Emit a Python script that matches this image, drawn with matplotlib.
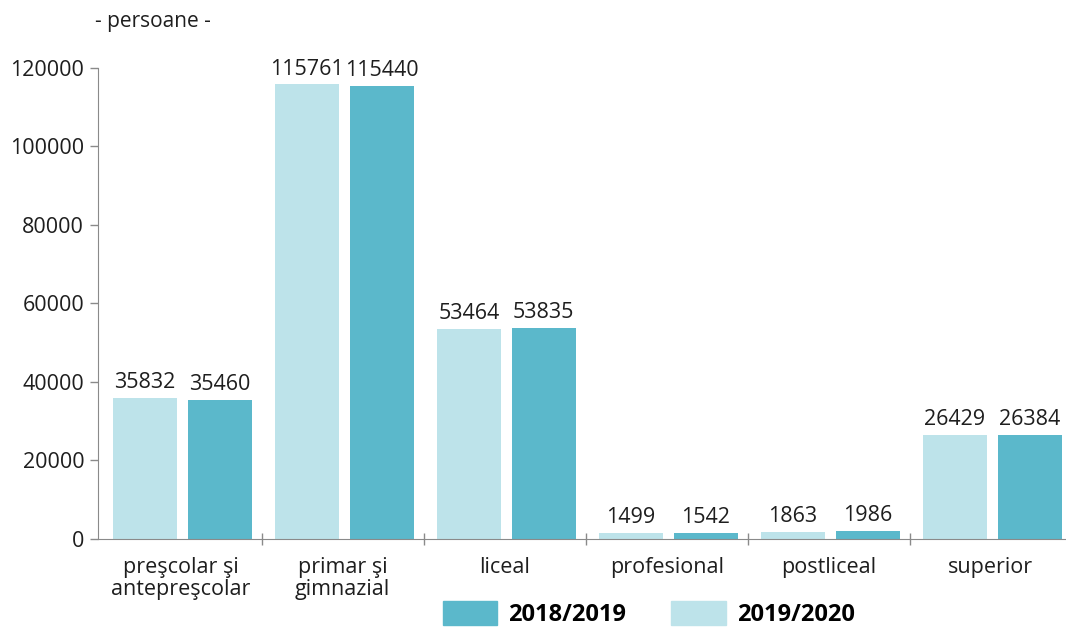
import matplotlib.pyplot as plt
import numpy as np
from matplotlib.patches import Patch

plt.rcParams['font.family'] = ['Open Sans', 'DejaVu Sans']

# data
categorii = ["preşcolar şi\nantepreşcolar", "primar şi\ngimnazial", "liceal",
             "profesional", "postliceal", "superior"]
ani_2019_2020 = [35832, 115761, 53464, 1499, 1863, 26429]
ani_2018_2019 = [35460, 115440, 53835, 1542, 1986, 26384]
yticks = [0, 20000, 40000, 60000, 80000, 100000, 120000]

light = "#bde3ea"
dark = "#5bb8cb"
grey = "#8a8a8a"
txt = "#1e1e1e"

fig = plt.figure(figsize=(10.66, 6.28), dpi=100)
ax = fig.add_axes([0.092, 0.142, 0.908, 0.75])

x = np.arange(len(categorii))
w = 0.395
b1 = ax.bar(x - 0.22, ani_2019_2020, w, color=light)
b2 = ax.bar(x + 0.24, ani_2018_2019, w, color=dark)

for bars, vals in [(b1, ani_2019_2020), (b2, ani_2018_2019)]:
    for r, v in zip(bars, vals):
        ax.annotate(str(v), (r.get_x() + r.get_width() / 2, v),
                    xytext=(0, 3.5), textcoords="offset points",
                    ha="center", va="bottom", fontsize=15.5,
                    color=txt, annotation_clip=False)

ax.set_xlim(-0.51, 5.465)
ax.set_ylim(0, 120000)
ax.set_yticks(yticks)
ax.set_yticklabels([str(t) for t in yticks], fontsize=15.5, color=txt)

# category separators on x axis
ax.set_xticks(np.arange(len(categorii) - 1) + 0.5)
ax.set_xticklabels([])
ax.tick_params(axis="x", direction="inout", length=8, color=grey, width=1)
ax.tick_params(axis="y", direction="out", length=6, color=grey, width=1, pad=4)
for i, c in enumerate(categorii):
    ax.annotate(c, (i, 0), xytext=(0, -13), textcoords="offset points",
                ha="center", va="top", fontsize=15.5, color=txt,
                linespacing=1.05, annotation_clip=False)

for s in ["top", "right"]:
    ax.spines[s].set_visible(False)
ax.spines["left"].set_color(grey)
ax.spines["bottom"].set_color(grey)

fig.text(0.089, 0.965, "- persoane -", fontsize=15, color=txt,
         ha="left", va="center")

handles = [Patch(color=dark), Patch(color=light)]
fig.legend(handles, ["2018/2019", "2019/2020"], ncol=2, frameon=False,
           loc="upper left", bbox_to_anchor=(0.4156, 0.043),
           prop={"weight": "bold", "size": 17},
           handlelength=2.3, handleheight=1.2, columnspacing=1.9,
           handletextpad=0.47, borderaxespad=0, borderpad=0)

fig.savefig("out.png", dpi=100)
